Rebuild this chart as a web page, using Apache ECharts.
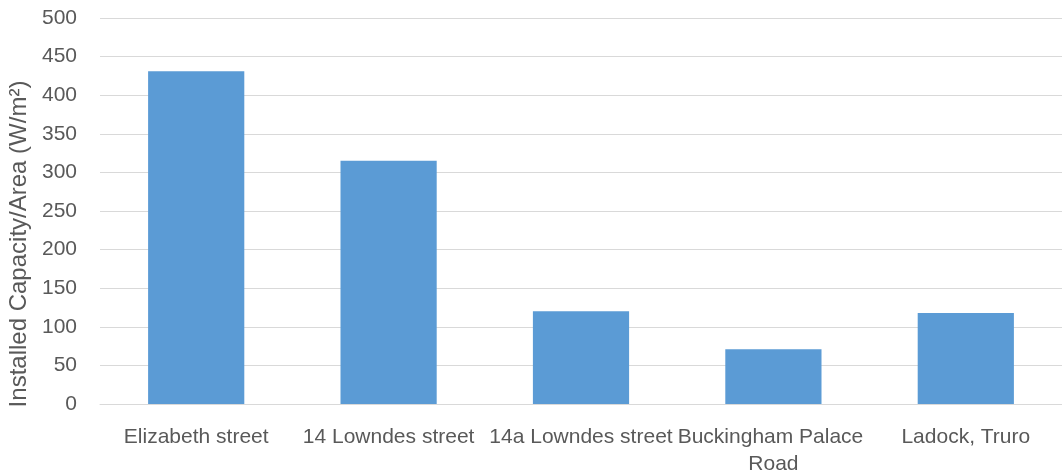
<!DOCTYPE html>
<html>
<head>
<meta charset="utf-8">
<script src="https://cdn.jsdelivr.net/npm/echarts@6/dist/echarts.min.js"></script>
<style>html,body{margin:0;padding:0;background:#fff}#c{width:1062px;height:474px}</style>
</head>
<body>
<div id="c"></div>
<script>
const categories = ['Elizabeth street', '14 Lowndes street', '14a Lowndes street', 'Buckingham Palace Road', 'Ladock, Truro'];
const values = [431, 315, 120, 71, 118];
const yTicks = { min: 0, max: 500, interval: 50 };
const yName = 'Installed Capacity/Area (W/m²)';

const chart = echarts.init(document.getElementById('c'));
chart.setOption({
  animation: false,
  textStyle: { fontFamily: 'Liberation Sans' },
  grid: { left: 100, right: 0, top: 18, bottom: 70, containLabel: false, outerBoundsMode: 'none' },
  xAxis: {
    type: 'category',
    data: categories,
    axisLine: { lineStyle: { color: '#D9D9D9', width: 1 } },
    axisTick: { show: false },
    axisLabel: {
      interval: 0, color: '#595959', fontSize: 21, fontFamily: 'Liberation Sans',
      width: 196, overflow: 'break', lineHeight: 27, margin: 20
    }
  },
  yAxis: {
    type: 'value',
    min: yTicks.min, max: yTicks.max, interval: yTicks.interval,
    name: yName,
    nameLocation: 'middle',
    nameGap: 49,
    nameTextStyle: { color: '#595959', fontSize: 24, fontFamily: 'Liberation Sans', padding: [0, 66, 0, 0] },
    axisLine: { show: false },
    axisTick: { show: false },
    splitLine: { lineStyle: { color: '#D9D9D9', width: 1 } },
    axisLabel: { color: '#595959', fontSize: 21, fontFamily: 'Liberation Sans', margin: 23 }
  },
  series: [{
    type: 'bar',
    data: values,
    barWidth: '50%',
    itemStyle: { color: '#5B9BD5' }
  }]
});
</script>
</body>
</html>
